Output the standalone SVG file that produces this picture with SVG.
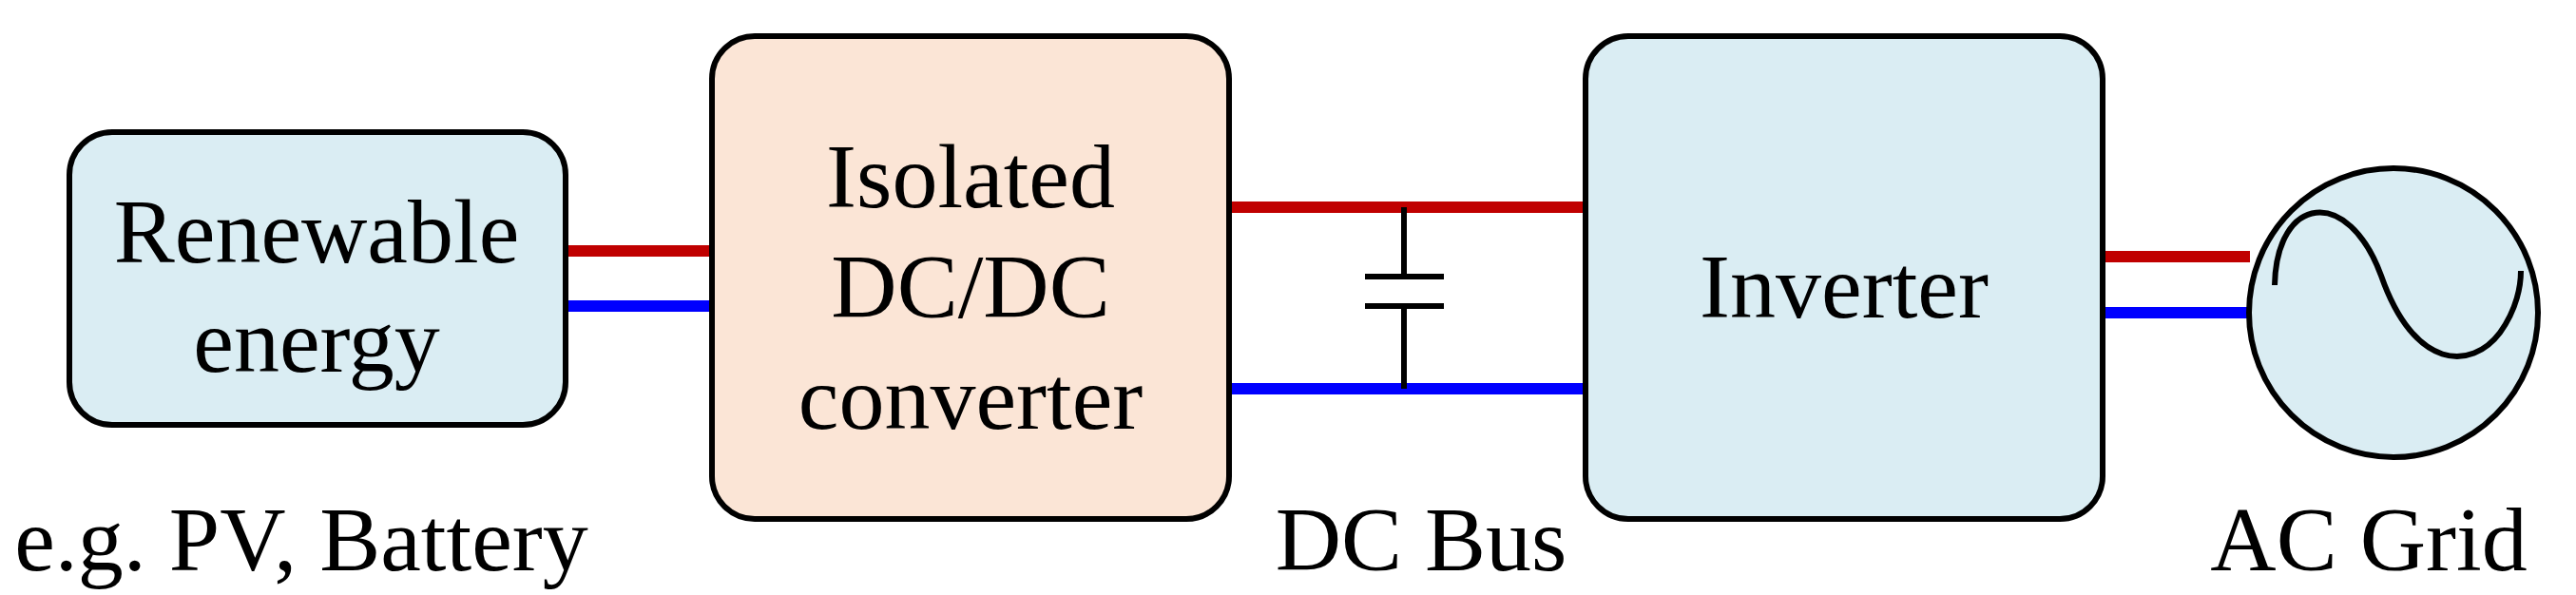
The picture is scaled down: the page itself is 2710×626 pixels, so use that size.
<svg xmlns="http://www.w3.org/2000/svg" width="2710" height="626" viewBox="0 0 2710 626">
<style>
.box{stroke:#000;stroke-width:6}
.t{font-family:"Liberation Serif",serif;font-size:96px;fill:#000;text-anchor:middle}
.r{stroke:#c00000;stroke-width:12;fill:none}
.b{stroke:#0000ff;stroke-width:12;fill:none}
.k{stroke:#000;stroke-width:6;fill:none}
</style>
<rect width="2710" height="626" fill="#fff"/>
<g id="connectors">
<line class="r" x1="595" y1="264" x2="749" y2="264"/>
<line class="b" x1="595" y1="322" x2="749" y2="322"/>
<line class="r" x1="1293" y1="218" x2="1668" y2="218"/>
<line class="b" x1="1293" y1="409" x2="1668" y2="409"/>
<line class="r" x1="2212" y1="270" x2="2367" y2="270"/>
<line class="b" x1="2212" y1="329" x2="2367" y2="329"/>
<g id="capacitor">
<line class="k" x1="1477" y1="218" x2="1477" y2="291"/>
<line class="k" x1="1477" y1="322" x2="1477" y2="409"/>
<line class="k" x1="1436" y1="291" x2="1519" y2="291"/>
<line class="k" x1="1436" y1="322" x2="1519" y2="322"/>
</g>
</g>
<g id="renewable">
<rect class="box" x="73" y="139" width="522" height="308" rx="45" fill="#daedf3"/>
<text class="t" x="333" y="276">Renewable</text>
<text class="t" x="333" y="391">energy</text>
</g>
<g id="dcdc">
<rect class="box" x="749" y="38" width="544" height="508" rx="45" fill="#fbe5d6"/>
<text class="t" x="1021" y="218">Isolated</text>
<text class="t" x="1021" y="334">DC/DC</text>
<text class="t" x="1021" y="451">converter</text>
</g>
<g id="inverter">
<rect class="box" x="1668" y="38" width="544" height="508" rx="45" fill="#daedf3"/>
<text class="t" x="1940" y="334">Inverter</text>
</g>
<g id="grid">
<circle class="box" cx="2518" cy="329" r="152" fill="#daedf3"/>
<path class="k" d="M2393,300 C2395,205 2470,195 2505,290 C2540,390 2600,390 2630,350 C2648,325 2652,300 2652,285"/>
</g>
<g id="labels">
<text class="t" x="317" y="600">e.g. PV, Battery</text>
<text class="t" x="1495" y="600">DC Bus</text>
<text class="t" x="2492" y="600">AC Grid</text>
</g>
</svg>
